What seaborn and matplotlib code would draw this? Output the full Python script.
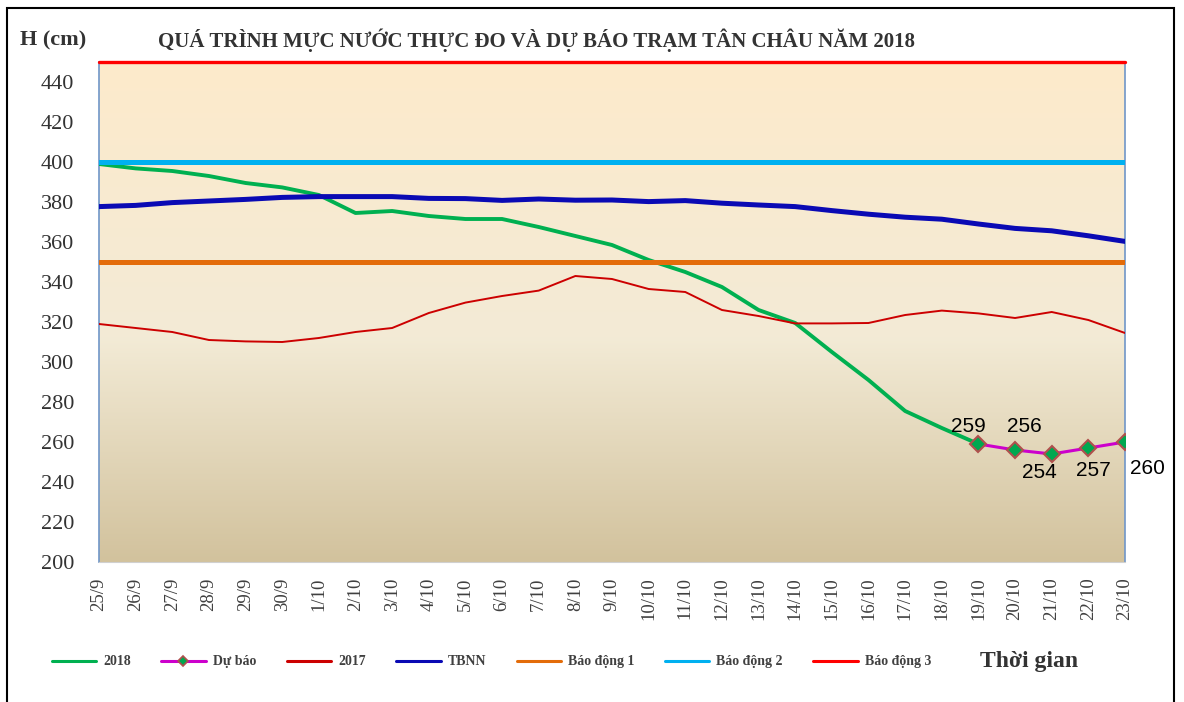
import numpy as np
import pandas as pd
import matplotlib
matplotlib.use("Agg")
import matplotlib.pyplot as plt
import seaborn as sns
from matplotlib.colors import LinearSegmentedColormap
from matplotlib.patches import Rectangle

# ngay quan trac
dates = ["25/9", "26/9", "27/9", "28/9", "29/9", "30/9", "1/10", "2/10", "3/10",
         "4/10", "5/10", "6/10", "7/10", "8/10", "9/10", "10/10", "11/10", "12/10",
         "13/10", "14/10", "15/10", "16/10", "17/10", "18/10", "19/10", "20/10",
         "21/10", "22/10", "23/10"]

# muc nuoc thuc do 2018 (den 19/10)
muc_2018 = [399, 396.8, 395.5, 393, 389.5, 387.3, 383.5, 374.5, 375.5, 373,
            371.5, 371.5, 367.5, 363, 358.5, 351, 345, 337.5, 326, 319.5,
            305, 291, 275.5, 267, 259]

# du bao 19/10 - 23/10
du_bao = [259, 256, 254, 257, 260]

muc_2017 = [319, 317, 315, 311, 310.3, 310, 312, 315, 317, 324.5, 329.7, 333,
            335.7, 343, 341.5, 336.5, 335, 326, 323, 319.3, 319.3, 319.5, 323.5,
            325.7, 324.3, 322, 325, 321, 314.5]

tbnn = [377.7, 378.3, 379.7, 380.5, 381.3, 382.3, 382.7, 382.7, 382.7, 381.8,
        381.7, 380.8, 381.5, 380.9, 381, 380.2, 380.7, 379.4, 378.5, 377.7,
        375.7, 373.9, 372.4, 371.4, 369, 366.8, 365.6, 363.1, 360.3]

bao_dong_1 = 350
bao_dong_2 = 400
bao_dong_3 = 450

yticks = list(range(200, 460, 20))

sns.set_style("white")
plt.rcParams['font.family'] = ['Liberation Serif', 'DejaVu Serif']

x_all = np.arange(len(dates))
x_2018 = x_all[:len(muc_2018)]
x_db = x_all[len(dates) - len(du_bao):]

fig = plt.figure(figsize=(11.84, 7.02), dpi=100)
ax = fig.add_axes([99 / 1184, 1 - 562 / 702, (1125 - 99) / 1184, 500 / 702])

# nen gradient
cmap = LinearSegmentedColormap.from_list(
    "nen", [(0, "#FDEACB"), (0.55, "#F3EBD6"), (1.0, "#D2C29D")])
grad = np.linspace(0, 1, 256).reshape(-1, 1)
ax.imshow(grad, cmap=cmap, extent=[0, len(dates) - 1, 200, 450],
          aspect="auto", origin="upper", zorder=0)

sns.lineplot(x=x_2018, y=muc_2018, ax=ax, color="#00B050", lw=2.8,
             label="2018", zorder=3)
sns.lineplot(x=x_db, y=du_bao, ax=ax, color="#CC00CC", lw=2.2, marker="D",
             markersize=8, markerfacecolor="#00A850", markeredgecolor="#B0504D",
             markeredgewidth=1.5, label="Dự báo", zorder=6)
sns.lineplot(x=x_all, y=muc_2017, ax=ax, color="#CC0000", lw=1.4,
             label="2017", zorder=3)
sns.lineplot(x=x_all, y=tbnn, ax=ax, color="#0A0AB4", lw=3.6,
             label="TBNN", zorder=4)
ax.axhline(bao_dong_1, color="#E36C0A", lw=3.6, label="Báo động 1", zorder=4)
ax.axhline(bao_dong_2, color="#00B0F0", lw=3.6, label="Báo động 2", zorder=4)
ax.axhline(bao_dong_3, color="#FF0000", lw=2.4, label="Báo động 3", zorder=5,
           clip_on=False)

# nhan so lieu du bao
offsets = [(-10, 17), (9, 23), (-12, -19), (5, -23), (22, -27)]
for xi, v, off in zip(x_db, du_bao, offsets):
    ax.annotate(str(v), (xi, v), xytext=off, textcoords="offset pixels",
                ha="center", va="center", fontsize=15,
                family=["Liberation Sans", "DejaVu Sans"], color="black",
                zorder=7)

ax.set_xlim(0, len(dates) - 1)
ax.set_ylim(200, 450)
ax.set_yticks(yticks)
ax.set_yticklabels([str(t) for t in yticks], fontsize=16, color="#333333")
ax.set_xticks(x_all)
ax.set_xticklabels(dates, rotation=90, fontsize=13.5, color="#404040")
ax.tick_params(axis="y", length=0, pad=18)
ax.tick_params(axis="x", length=0, pad=11)
ax.set_xlabel("")
ax.set_ylabel("")

for s in ["left", "right"]:
    ax.spines[s].set_color("#7096C8")
    ax.spines[s].set_linewidth(1.2)
ax.spines["top"].set_visible(False)
ax.spines["bottom"].set_color("#D0D0D0")

handles, labels = ax.get_legend_handles_labels()
leg = ax.legend(handles, labels, ncol=7, frameon=False, loc="center",
                bbox_to_anchor=(0.415, 0.057), bbox_transform=fig.transFigure,
                handlelength=3.2, columnspacing=2.2, handletextpad=0.5,
                prop={"weight": "bold", "size": 10})
for t in leg.get_texts():
    t.set_color("#404040")
# legend lines all thin like the original
for h in leg.legend_handles:
    h.set_linewidth(2.2)
leg.legend_handles[1].set_markersize(5.5)
leg.legend_handles[1].set_markeredgewidth(1.2)

fig.text(20 / 1184, 1 - 40 / 702, "H (cm)", fontsize=16, fontweight="bold",
         color="#333333", va="center", ha="left")
fig.text(536 / 1184, 1 - 40 / 702,
         "QUÁ TRÌNH MỰC NƯỚC THỰC ĐO VÀ DỰ BÁO TRẠM TÂN CHÂU NĂM 2018",
         fontsize=15, fontweight="bold", color="#333333", va="center",
         ha="center")
fig.text(1029 / 1184, 1 - 661 / 702, "Thời gian", fontsize=17,
         fontweight="bold", color="#333333", va="center", ha="center")

# khung ngoai
fig.patches.append(Rectangle((7 / 1184, -0.02), (1174 - 7) / 1184,
                             1 - 8 / 702 + 0.02, transform=fig.transFigure,
                             fill=False, edgecolor="black", lw=1.5))

fig.savefig("out.png", dpi=100)
